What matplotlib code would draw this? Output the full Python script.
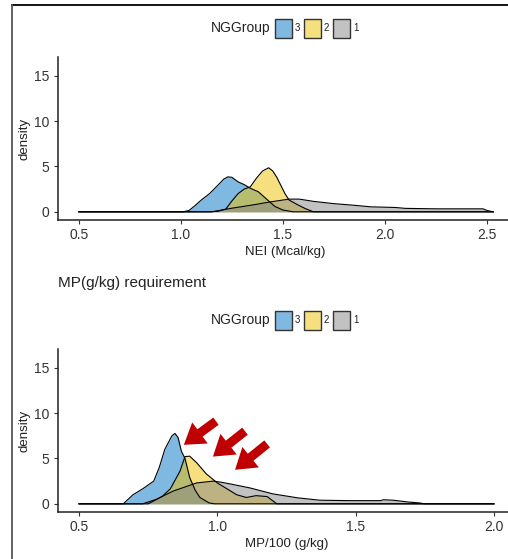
import matplotlib
matplotlib.use("Agg")
import matplotlib.pyplot as plt
from matplotlib.patches import Rectangle
from matplotlib.lines import Line2D

plt.rcParams['font.family'] = ['Liberation Sans', 'DejaVu Sans']

groups = ["3", "2", "1"]
colors = ["#0073C2", "#EFC000", "#868686"]

# NEI (Mcal/kg) densities
nei_x3 = [0.5, 1.01, 1.04, 1.07, 1.10, 1.14, 1.18, 1.21, 1.23, 1.25, 1.28, 1.31, 1.34, 1.38, 1.42, 1.46, 1.50, 1.55, 2.53]
nei_y3 = [0, 0, 0.15, 0.7, 1.3, 2.0, 2.9, 3.6, 3.85, 3.8, 3.3, 3.0, 2.6, 2.2, 1.4, 0.6, 0.2, 0, 0]
nei_x2 = [0.5, 1.14, 1.18, 1.22, 1.25, 1.28, 1.31, 1.34, 1.37, 1.40, 1.43, 1.45, 1.47, 1.49, 1.51, 1.53, 1.57, 1.61, 1.65, 2.53]
nei_y2 = [0, 0, 0.05, 0.3, 1.2, 2.0, 2.5, 2.75, 3.7, 4.5, 4.85, 4.5, 3.8, 2.9, 2.0, 1.3, 0.8, 0.35, 0, 0]
nei_x1 = [0.5, 1.15, 1.25, 1.35, 1.44, 1.53, 1.58, 1.65, 1.75, 1.85, 1.93, 2.05, 2.1, 2.25, 2.48, 2.50, 2.53]
nei_y1 = [0, 0, 0.4, 0.75, 1.1, 1.4, 1.4, 1.15, 0.9, 0.72, 0.55, 0.48, 0.38, 0.33, 0.33, 0.15, 0]

# MP/100 (g/kg) densities
mp_x3 = [0.5, 0.66, 0.695, 0.73, 0.77, 0.79, 0.81, 0.836, 0.847, 0.858, 0.87, 0.883, 0.90, 0.92, 0.937, 0.97, 0.99, 2.0]
mp_y3 = [0, 0, 1.0, 1.65, 2.5, 4.0, 6.0, 7.5, 7.75, 7.3, 5.8, 5.0, 2.9, 1.5, 0.7, 0.1, 0, 0]
mp_x2 = [0.5, 0.75, 0.8, 0.83, 0.865, 0.883, 0.90, 0.926, 0.96, 1.0, 1.035, 1.07, 1.105, 1.14, 1.18, 1.215, 2.0]
mp_y2 = [0, 0, 0.8, 1.65, 3.6, 5.2, 5.25, 4.5, 3.3, 2.3, 1.65, 1.0, 0.7, 0.9, 0.8, 0, 0]
mp_x1 = [0.5, 0.73, 0.78, 0.84, 0.925, 0.985, 1.01, 1.045, 1.118, 1.2, 1.29, 1.37, 1.48, 1.59, 1.6, 1.635, 1.69, 1.73, 1.75, 2.0]
mp_y1 = [0, 0, 0.5, 1.4, 2.3, 2.5, 2.4, 2.2, 1.75, 1.1, 0.66, 0.4, 0.35, 0.35, 0.45, 0.4, 0.2, 0.1, 0, 0]

# arrows (tail, tip) on the MP panel
arrow_tails = [(0.995, 9.1), (1.10, 8.0), (1.18, 6.6)]
arrow_tips = [(0.879, 6.5), (0.984, 5.2), (1.064, 3.75)]

W, H = 508, 559
fig = plt.figure(figsize=(W / 100, H / 100), dpi=100)


def px_axes(left, top, right, bottom):
    return fig.add_axes([left / W, 1 - bottom / H, (right - left) / W, (bottom - top) / H])


def style(ax, xlim, xticks, xlabel):
    ax.set_xlim(*xlim)
    ax.set_ylim(-0.9, 17.05)
    ax.set_xticks(xticks)
    ax.set_xticklabels([f"{t:.1f}" for t in xticks])
    ax.set_yticks([0, 5, 10, 15])
    for s in ["top", "right"]:
        ax.spines[s].set_visible(False)
    for s in ["left", "bottom"]:
        ax.spines[s].set_linewidth(1.1)
        ax.spines[s].set_color("#222222")
    ax.tick_params(length=3, width=0.8, color="#333333", labelsize=10, labelcolor="#333333", pad=3)
    ax.set_xlabel(xlabel, fontsize=9.5, color="#222222", labelpad=3)
    ax.set_ylabel("density", fontsize=9.5, color="#222222", labelpad=3)


def draw(ax, xs, ys):
    for x, y, c in zip(xs, ys, colors):
        ax.fill_between(x, y, 0, color=c, alpha=0.5, linewidth=0)
        ax.plot(x, y, color="black", linewidth=0.8)


def legend(cy):
    fig.text(270 / W, 1 - cy / H, "NGGroup", fontsize=10, color="#222222", ha="right", va="center")
    x0 = 275
    for g, c in zip(groups, colors):
        fig.patches.append(Rectangle((x0 / W, 1 - (cy + 9.5) / H), 17 / W, 19 / H, transform=fig.transFigure,
                                     facecolor=c, alpha=0.5, edgecolor="none"))
        fig.patches.append(Rectangle((x0 / W, 1 - (cy + 9.5) / H), 17 / W, 19 / H, transform=fig.transFigure,
                                     facecolor="none", edgecolor="#333333", linewidth=1.0))
        fig.text((x0 + 20) / W, 1 - cy / H, g, fontsize=7, color="#222222", ha="left", va="center")
        x0 += 29


ax1 = px_axes(58, 57, 513, 220)
draw(ax1, [nei_x3, nei_x2, nei_x1], [nei_y3, nei_y2, nei_y1])
style(ax1, (0.398, 2.627), [0.5, 1.0, 1.5, 2.0, 2.5], "NEI (Mcal/kg)")
legend(28)

ax2 = px_axes(58, 349, 515, 512)
draw(ax2, [mp_x3, mp_x2, mp_x1], [mp_y3, mp_y2, mp_y1])
style(ax2, (0.424, 2.076), [0.5, 1.0, 1.5, 2.0], "MP/100 (g/kg)")
legend(320)

for tail, tip in zip(arrow_tails, arrow_tips):
    ax2.annotate("", xy=tip, xytext=tail,
                 arrowprops=dict(arrowstyle="simple,head_length=0.8,head_width=1.05,tail_width=0.36",
                                 mutation_scale=18, color="#C00000", shrinkA=0, shrinkB=0, linewidth=0))

fig.text(58 / W, 1 - 283 / H, "MP(g/kg) requirement", fontsize=11, color="#222222", ha="left", va="center")

# outer frame
fig.add_artist(Line2D([12 / W, 1], [1 - 5 / H, 1 - 5 / H], transform=fig.transFigure, color="black", linewidth=1.3))
fig.add_artist(Line2D([12 / W, 12 / W], [0, 1 - 5 / H], transform=fig.transFigure, color="#555555", linewidth=1.3))

fig.savefig("out.png", dpi=100)
